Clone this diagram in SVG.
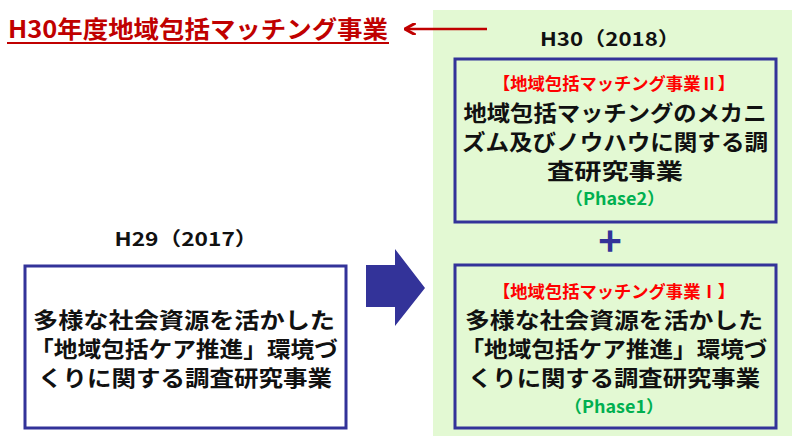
<svg xmlns="http://www.w3.org/2000/svg" width="794" height="439" viewBox="0 0 794 439">
<defs>
<style>
text{font-family:"Noto Sans CJK JP","Noto Sans",sans-serif;font-weight:bold;text-anchor:middle}
.box{fill:#fff;stroke:#333399;stroke-width:3}
.inbox{fill:none;stroke:#333399;stroke-width:3}
.yr{font-size:19px;fill:#111}
.main{font-size:22px;fill:#111}
.red{font-size:17px;fill:#ff0000}
.grn{font-size:17px;fill:#00b050}
</style>
<marker id="ah" viewBox="0 0 10 10" refX="8" refY="5" markerWidth="5" markerHeight="5" orient="auto">
<path d="M0,0 L9,5 L0,10" fill="none" stroke="#c00000" stroke-width="2.4"/>
</marker>
</defs>
<rect width="794" height="439" fill="#fff"/>
<g id="panel"><rect x="433" y="10" width="359" height="426" fill="#e3f9d3"/></g>
<g id="title">
<text x="198" y="38" style="font-size:24px;fill:#c00000" textLength="380" lengthAdjust="spacingAndGlyphs">H30年度地域包括マッチング事業</text>
<line x1="7" y1="43" x2="389" y2="43" stroke="#c00000" stroke-width="2"/>
</g>
<g id="connectors">
<line x1="487" y1="29" x2="406" y2="29" stroke="#c00000" stroke-width="2.4" marker-end="url(#ah)"/>
<path d="M366,265 H395 V249 L425,288 L395,326 V307 H366 Z" fill="#333399"/>
<text x="610" y="256" style="font-size:40px;fill:#333399">+</text>
</g>
<g id="h30label"><text class="yr" x="610" y="46" textLength="140" lengthAdjust="spacingAndGlyphs">H30（2018）</text></g>
<g id="h29label"><text class="yr" x="186" y="246" textLength="143" lengthAdjust="spacingAndGlyphs">H29（2017）</text></g>
<g id="phase2">
<rect class="inbox" x="455" y="59" width="321" height="163"/>
<text class="red" x="614" y="90" textLength="242" lengthAdjust="spacingAndGlyphs">【地域包括マッチング事業Ⅱ】</text>
<text class="main" x="615" y="121" textLength="303" lengthAdjust="spacingAndGlyphs">地域包括マッチングのメカニ</text>
<text class="main" x="615" y="150" textLength="306" lengthAdjust="spacingAndGlyphs">ズム及びノウハウに関する調</text>
<text class="main" x="615" y="179" textLength="136" lengthAdjust="spacingAndGlyphs">査研究事業</text>
<text class="grn" x="615" y="205" textLength="100" lengthAdjust="spacingAndGlyphs">（Phase2）</text>
</g>
<g id="phase1">
<rect class="inbox" x="455" y="265" width="321" height="163"/>
<text class="red" x="614" y="298" textLength="242" lengthAdjust="spacingAndGlyphs">【地域包括マッチング事業Ⅰ】</text>
<text class="main" x="614" y="328" textLength="298" lengthAdjust="spacingAndGlyphs">多様な社会資源を活かした</text>
<text class="main" x="614" y="357" textLength="307" lengthAdjust="spacingAndGlyphs">「地域包括ケア推進」環境づ</text>
<text class="main" x="614" y="386" textLength="292" lengthAdjust="spacingAndGlyphs">くりに関する調査研究事業</text>
<text class="grn" x="614" y="413" textLength="100" lengthAdjust="spacingAndGlyphs">（Phase1）</text>
</g>
<g id="h29box">
<rect class="box" x="25" y="266" width="321" height="162"/>
<text class="main" x="184" y="328" textLength="302" lengthAdjust="spacingAndGlyphs">多様な社会資源を活かした</text>
<text class="main" x="184" y="357" textLength="308" lengthAdjust="spacingAndGlyphs">「地域包括ケア推進」環境づ</text>
<text class="main" x="185" y="386" textLength="294" lengthAdjust="spacingAndGlyphs">くりに関する調査研究事業</text>
</g>
</svg>
